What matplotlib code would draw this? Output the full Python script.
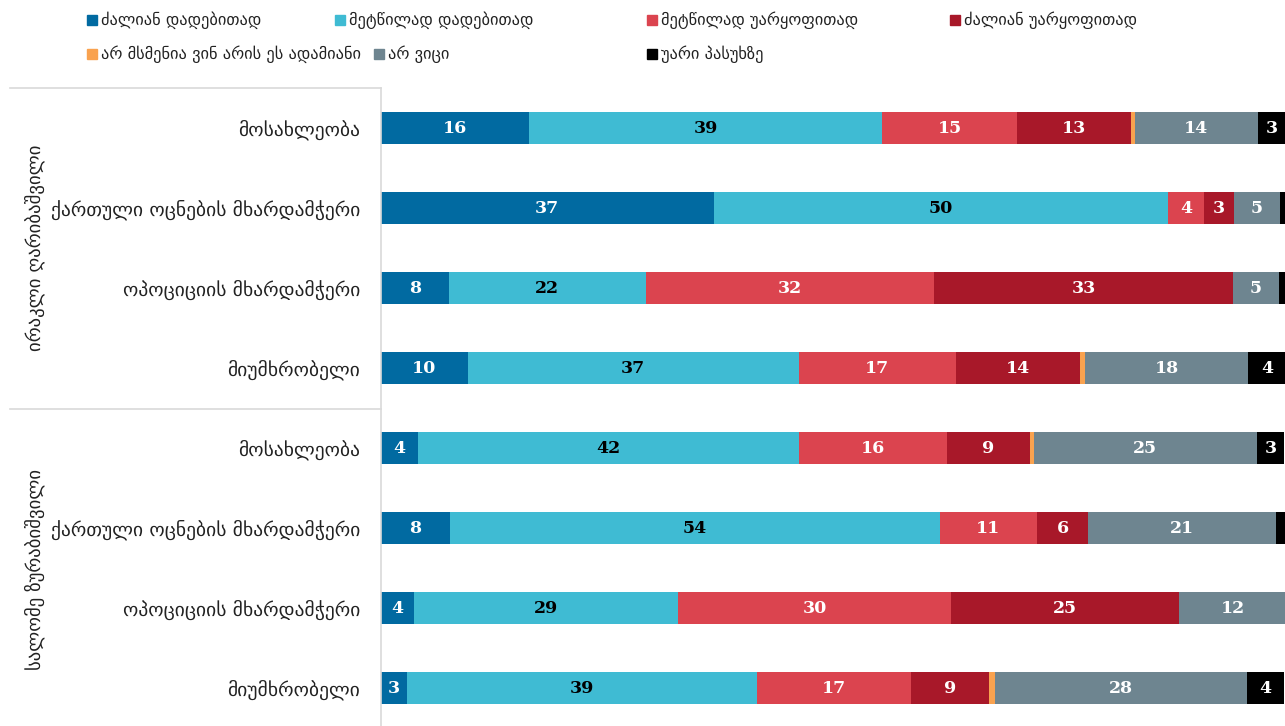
import matplotlib.pyplot as plt
from matplotlib.lines import Line2D
from matplotlib.patches import Rectangle

plt.rcParams['font.family'] = ['DejaVu Sans']

# მონაცემები
groups = ['ირაკლი ღარიბაშვილი', 'სალომე ზურაბიშვილი']
categories = ['მოსახლეობა', 'ქართული ოცნების მხარდამჭერი',
              'ოპოციციის მხარდამჭერი', 'მიუმხრობელი']
series = ['ძალიან დადებითად', 'მეტწილად დადებითად', 'მეტწილად უარყოფითად',
          'ძალიან უარყოფითად', 'არ მსმენია ვინ არის ეს ადამიანი', 'არ ვიცი',
          'უარი პასუხზე']
colors = ['#016aa1', '#3fbbd3', '#db444f', '#a81829', '#f9a24f', '#6e8590', '#000000']
text_colors = ['white', 'black', 'white', 'white', 'white', 'white', 'white']

# row order: group 1 (4 rows), then group 2 (4 rows)
very_pos = [16.4, 36.8, 7.5, 9.6, 4.1, 7.6, 3.6, 2.9]
mostly_pos = [39.0, 50.3, 21.8, 36.6, 42.1, 54.2, 29.3, 38.7]
mostly_neg = [15.0, 3.9, 31.9, 17.4, 16.4, 10.8, 30.1, 17.0]
very_neg = [12.6, 3.4, 33.1, 13.7, 9.2, 5.6, 25.3, 8.7]
never_heard = [0.4, 0.0, 0.0, 0.6, 0.4, 0.0, 0.0, 0.6]
dont_know = [13.6, 5.0, 5.0, 18.0, 24.7, 20.8, 11.8, 27.9]
refused = [3.1, 0.6, 0.8, 4.3, 3.0, 1.1, 0.0, 4.1]

data = [very_pos, mostly_pos, mostly_neg, very_neg, never_heard, dont_know, refused]
row_labels = categories * len(groups)

W, H = 1285, 726
fig = plt.figure(figsize=(W / 100, H / 100), dpi=100)
ax = fig.add_axes([381 / W, -2 / H, 1 - 381 / W, 640 / H])

n = len(row_labels)
ypos = list(range(n))
left = [0.0] * n
for vals, col, tcol in zip(data, colors, text_colors):
    ax.barh(ypos, vals, left=left, height=0.4, color=col, edgecolor='none')
    for i, v in enumerate(vals):
        if v >= 2.5:
            ax.text(left[i] + v / 2, i + 0.01, f'{round(v)}', ha='center', va='center',
                    color=tcol, fontsize=12.5, fontweight='bold', family='DejaVu Serif')
    left = [l + v for l, v in zip(left, vals)]

ax.set_xlim(0, 100)
ax.set_ylim(n - 0.5, -0.5)
ax.set_yticks(ypos)
ax.set_yticklabels(row_labels, fontsize=14, color='#222222')
ax.tick_params(axis='y', length=0, pad=15)
ax.set_xticks([])
for s in ['top', 'right', 'bottom']:
    ax.spines[s].set_visible(False)
ax.spines['left'].set_color('#d9d9d9')
ax.spines['left'].set_linewidth(1.2)

# group separators and labels
line_col = '#d9d9d9'
for y in [88, 409]:
    fig.add_artist(Line2D([10 / W, 381 / W], [1 - y / H, 1 - y / H],
                          color=line_col, lw=1.2))
for g, yc in zip(groups, [248, 569]):
    fig.text(35 / W, 1 - yc / H, g, rotation=90, ha='center', va='center',
             fontsize=13.5, color='#222222')

# legend
legend_pos = [(87, 20), (335, 20), (647, 20), (950, 20),
              (87, 54), (374, 54), (647, 54)]
for (x, y), lab, col in zip(legend_pos, series, colors):
    fig.add_artist(Rectangle((x / W, 1 - (y + 5) / H), 10 / W, 10 / H,
                             transform=fig.transFigure, color=col))
    fig.text((x + 14) / W, 1 - y / H, lab, ha='left', va='center',
             fontsize=11.8, color='#222222')

fig.savefig('out.png', dpi=100)
